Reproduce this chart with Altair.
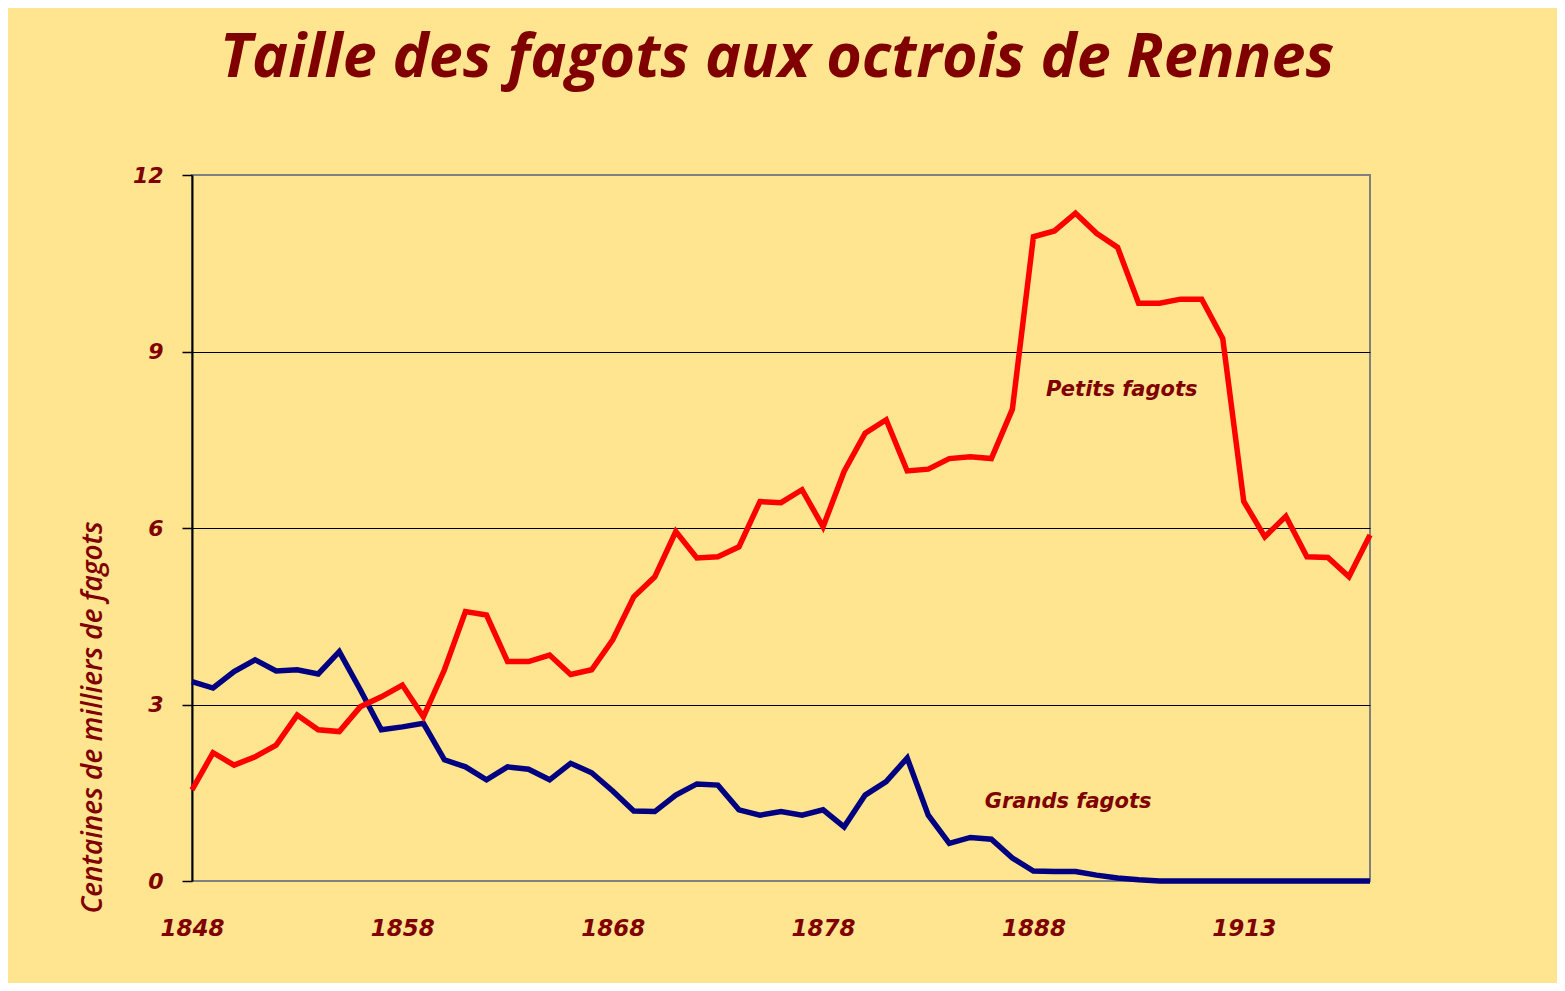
import altair as alt
import pandas as pd

# Axis tick labels (category index -> year label)
tick_index = [0, 10, 20, 30, 40, 50]
tick_labels = ["1848", "1858", "1868", "1878", "1888", "1913"]

# Centaines de milliers de fagots
petits = [1.55, 2.18, 1.97, 2.11, 2.31, 2.82, 2.57, 2.54, 2.96, 3.13,
          3.33, 2.79, 3.59, 4.58, 4.52, 3.73, 3.73, 3.84, 3.51, 3.59,
          4.10, 4.83, 5.17, 5.94, 5.49, 5.51, 5.68, 6.45, 6.43, 6.65,
          6.02, 6.96, 7.61, 7.84, 6.97, 7.00, 7.18, 7.21, 7.18, 8.02,
          10.95, 11.05, 11.35, 11.01, 10.77, 9.82, 9.82, 9.89, 9.89, 9.22,
          6.45, 5.85, 6.20, 5.51, 5.50, 5.17, 5.88]
grands = [3.39, 3.28, 3.56, 3.76, 3.57, 3.59, 3.52, 3.90, 3.25, 2.57,
          2.62, 2.68, 2.06, 1.94, 1.72, 1.94, 1.90, 1.72, 2.00, 1.84,
          1.53, 1.19, 1.18, 1.46, 1.65, 1.63, 1.21, 1.12, 1.18, 1.12,
          1.21, 0.92, 1.46, 1.69, 2.09, 1.12, 0.64, 0.74, 0.71, 0.39,
          0.17, 0.16, 0.16, 0.10, 0.05, 0.02, 0.0, 0.0, 0.0, 0.0,
          0.0, 0.0, 0.0, 0.0, 0.0, 0.0, 0.0]
series_names = ["Grands fagots", "Petits fagots"]
series_colors = ["#000080", "#FF0000"]

label_texts = ["Petits fagots", "Grands fagots"]
label_x = [44.2, 41.65]
label_y = [8.35, 1.34]

n = len(petits)
df = pd.DataFrame({
    "i": list(range(n)) * 2,
    "v": grands + petits,
    "serie": [series_names[0]] * n + [series_names[1]] * n,
    "order": [0] * n + [1] * n,
})
lab = pd.DataFrame({"i": label_x, "v": label_y, "t": label_texts})

DARK = "#800000"
BG = "#FFE58F"

label_expr = "[" + ",".join("'%s'" % s for s in tick_labels) + "][indexof([" + \
    ",".join(str(v) for v in tick_index) + "], datum.value)]"

xscale = alt.Scale(domain=[0, n - 1], nice=False, zero=False)
yscale = alt.Scale(domain=[0, 12], nice=False)

lines = alt.Chart(df).mark_line(strokeWidth=5.5).encode(
    x=alt.X("i:Q", scale=xscale, title=None,
            axis=alt.Axis(values=tick_index, labelExpr=label_expr, ticks=False, tickSize=0,
                          domain=False, grid=False, labelPadding=36, labelFlush=False,
                          labelFont="DejaVu Sans", labelFontSize=23, labelFontWeight="bold",
                          labelFontStyle="italic", labelColor=DARK, labelBaseline="top")),
    y=alt.Y("v:Q", scale=yscale,
            title="Centaines de milliers de fagots",
            axis=alt.Axis(values=[0, 3, 6, 9, 12], format="d", tickSize=10, tickColor="black",
                          tickWidth=1.5, domainColor="black", domainWidth=2,
                          gridColor={"condition": {"test": "datum.value == 0 || datum.value == 12",
                                                   "value": "#808080"}, "value": "black"},
                          gridWidth=1, labelPadding=19, labelFlush=False,
                          labelFont="DejaVu Sans", labelFontSize=22, labelFontWeight="bold",
                          labelFontStyle="italic", labelColor=DARK,
                          titleFont="Open Sans", titleFontSize=28, titleFontWeight=600,
                          titleFontStyle="italic", titleColor=DARK, titleAngle=270,
                          titleX=-99, titleY=542, titleAlign="center", titleBaseline="middle")),
    color=alt.Color("serie:N", scale=alt.Scale(domain=series_names, range=series_colors), legend=None),
    detail="serie:N",
    order="order:Q",
)

texts = alt.Chart(lab).mark_text(
    font="DejaVu Sans", fontSize=21, fontWeight="bold", fontStyle="italic",
    color=DARK, align="center", baseline="middle"
).encode(
    x=alt.X("i:Q", scale=xscale),
    y=alt.Y("v:Q", scale=yscale),
    text="t:N",
)

chart = alt.layer(lines, texts).properties(
    width=1178,
    height=706,
    background=BG,
    padding={"left": 184, "top": 167, "right": 187, "bottom": 102},
    autosize=alt.AutoSizeParams(type="none"),
    title=alt.TitleParams(
        "Taille des fagots aux octrois de Rennes",
        font="Open Sans", fontSize=61, fontWeight="bold", fontStyle="italic",
        color=DARK, anchor="middle", frame="group", baseline="alphabetic",
        offset=26, dx=-4,
    ),
).configure_view(
    stroke="#808080", strokeWidth=2, fill=BG
)

chart.save("out.html", embed_options={"renderer": "svg", "actions": False})
